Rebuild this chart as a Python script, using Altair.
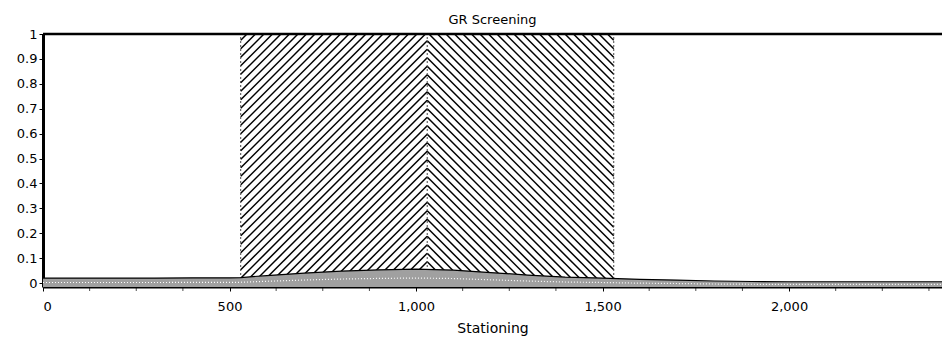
import altair as alt
import pandas as pd

# ---- data ----
band_station = [0, 100, 200, 300, 400, 500, 530, 600, 700, 800, 900, 1000, 1100, 1200,
                1300, 1400, 1500, 1600, 1700, 1800, 1900, 2000, 2100, 2200, 2300, 2410]
band_value = [0.02, 0.02, 0.02, 0.02, 0.021, 0.021, 0.022, 0.03, 0.04, 0.048, 0.053, 0.056,
              0.052, 0.042, 0.032, 0.024, 0.02, 0.015, 0.012, 0.008, 0.006, 0.005, 0.005,
              0.005, 0.005, 0.005]
limit_station = [0, 2410]
limit_value = [1.0, 1.0]
zone_start, zone_mid, zone_end = 530, 1030, 1530
zone_bottom, zone_top = 0.0, 1.0
x_ticks = [0, 500, 1000, 1500, 2000]
x_minor = [125 * i for i in range(1, 20) if (125 * i) % 500 != 0]
y_ticks = [round(0.1 * i, 1) for i in range(11)]

# ---- layout ----
W, H = 899, 253
X_DOM = [0, 2410]
Y_DOM = [-0.016, 1.0]
sx = W / (X_DOM[1] - X_DOM[0])
sy = H / (Y_DOM[1] - Y_DOM[0])
FONT = "DejaVu Sans"

# hatch segments derived from the zone bounds (styling, 45 degrees on screen)
def hatch(x0, x1, mirror_about=None, step=8.5):
    wpx = (x1 - x0) * sx
    hpx = (zone_top - zone_bottom) * sy
    rows = []
    c = -wpx + step / 2
    while c < hpx:
        u0 = max(0.0, -c)
        u1 = min(wpx, hpx - c)
        if u1 > u0:
            xa, xb = x0 + u0 / sx, x0 + u1 / sx
            ya, yb = zone_bottom + (u0 + c) / sy, zone_bottom + (u1 + c) / sy
            if mirror_about is not None:
                xa, xb = 2 * mirror_about - xa, 2 * mirror_about - xb
            rows.append({"x": xa, "x2": xb, "y": ya, "y2": yb})
        c += step
    return rows

hatch_df = pd.DataFrame(hatch(zone_start, zone_mid) +
                        hatch(zone_start, zone_mid, mirror_about=zone_mid))

band_df = pd.DataFrame({"station": band_station, "value": band_value,
                        "base": [Y_DOM[0]] * len(band_station)})
limit_df = pd.DataFrame({"station": limit_station, "value": limit_value})
edge_df = pd.DataFrame({"station": [zone_start, zone_mid, zone_end],
                        "lo": [zone_bottom] * 3, "hi": [zone_top] * 3})

xs = alt.Scale(domain=X_DOM, nice=False, zero=False)
ys = alt.Scale(domain=Y_DOM, nice=False, zero=False)

x_axis = alt.Axis(values=x_ticks, format=",d", title="Stationing", grid=False,
                  labelFont=FONT, labelFontSize=13, labelColor="black", labelOverlap=False,
                  titleFont=FONT, titleFontSize=14, titleFontWeight="normal", titleColor="black",
                  tickSize=4, tickColor="black", labelPadding=9, titlePadding=8,
                  domainColor="black", domainWidth=2)
y_axis = alt.Axis(values=y_ticks, format="~g", title=None, grid=False,
                  labelFont=FONT, labelFontSize=13, labelColor="black", labelOverlap=False,
                  tickSize=4, tickColor="black", labelPadding=2,
                  domainColor="black", domainWidth=3)


def X(field):
    return alt.X(field, scale=xs, axis=x_axis)


def Y(field):
    return alt.Y(field, scale=ys, axis=y_axis)


hatch_layer = alt.Chart(hatch_df).mark_rule(color="black", strokeWidth=1.5).encode(
    x=X("x:Q"), x2="x2:Q", y=Y("y:Q"), y2="y2:Q")

edges = alt.Chart(edge_df).mark_rule(color="#444", strokeWidth=1, strokeDash=[2, 2]).encode(
    x=X("station:Q"), y=Y("lo:Q"), y2="hi:Q")

band = alt.Chart(band_df).mark_area(color="#a0a0a0", line={"color": "black", "strokeWidth": 1.2},
                                    opacity=1).encode(
    x=X("station:Q"), y=Y("value:Q"), y2="base:Q")

band_texture = alt.Chart(band_df).mark_line(color="white", strokeWidth=1.2, strokeDash=[1, 2]).encode(
    x=X("station:Q"), y=Y("mid:Q")).transform_calculate(mid="(datum.value + datum.base) / 2")

limit = alt.Chart(limit_df).mark_line(color="black", strokeWidth=2.5).encode(
    x=X("station:Q"), y=Y("value:Q"))

minor_df = pd.DataFrame({"station": x_minor})
minor = alt.Chart(minor_df).mark_tick(color="black", size=3, thickness=1, orient="vertical").encode(
    x=X("station:Q"), y=alt.value(H + 2.5))

chart = alt.layer(hatch_layer, edges, band, band_texture, limit, minor).properties(
    width=W, height=H,
    title=alt.TitleParams("GR Screening", font=FONT, fontSize=13, fontWeight="normal",
                          color="black", anchor="middle", offset=1),
    autosize=alt.AutoSizeParams(type="none"),
    padding={"left": 43, "top": 34, "right": 0, "bottom": 55},
).configure_view(stroke=None).configure(background="white")

chart.save("out.html", embed_options={"renderer": "svg", "actions": False})
